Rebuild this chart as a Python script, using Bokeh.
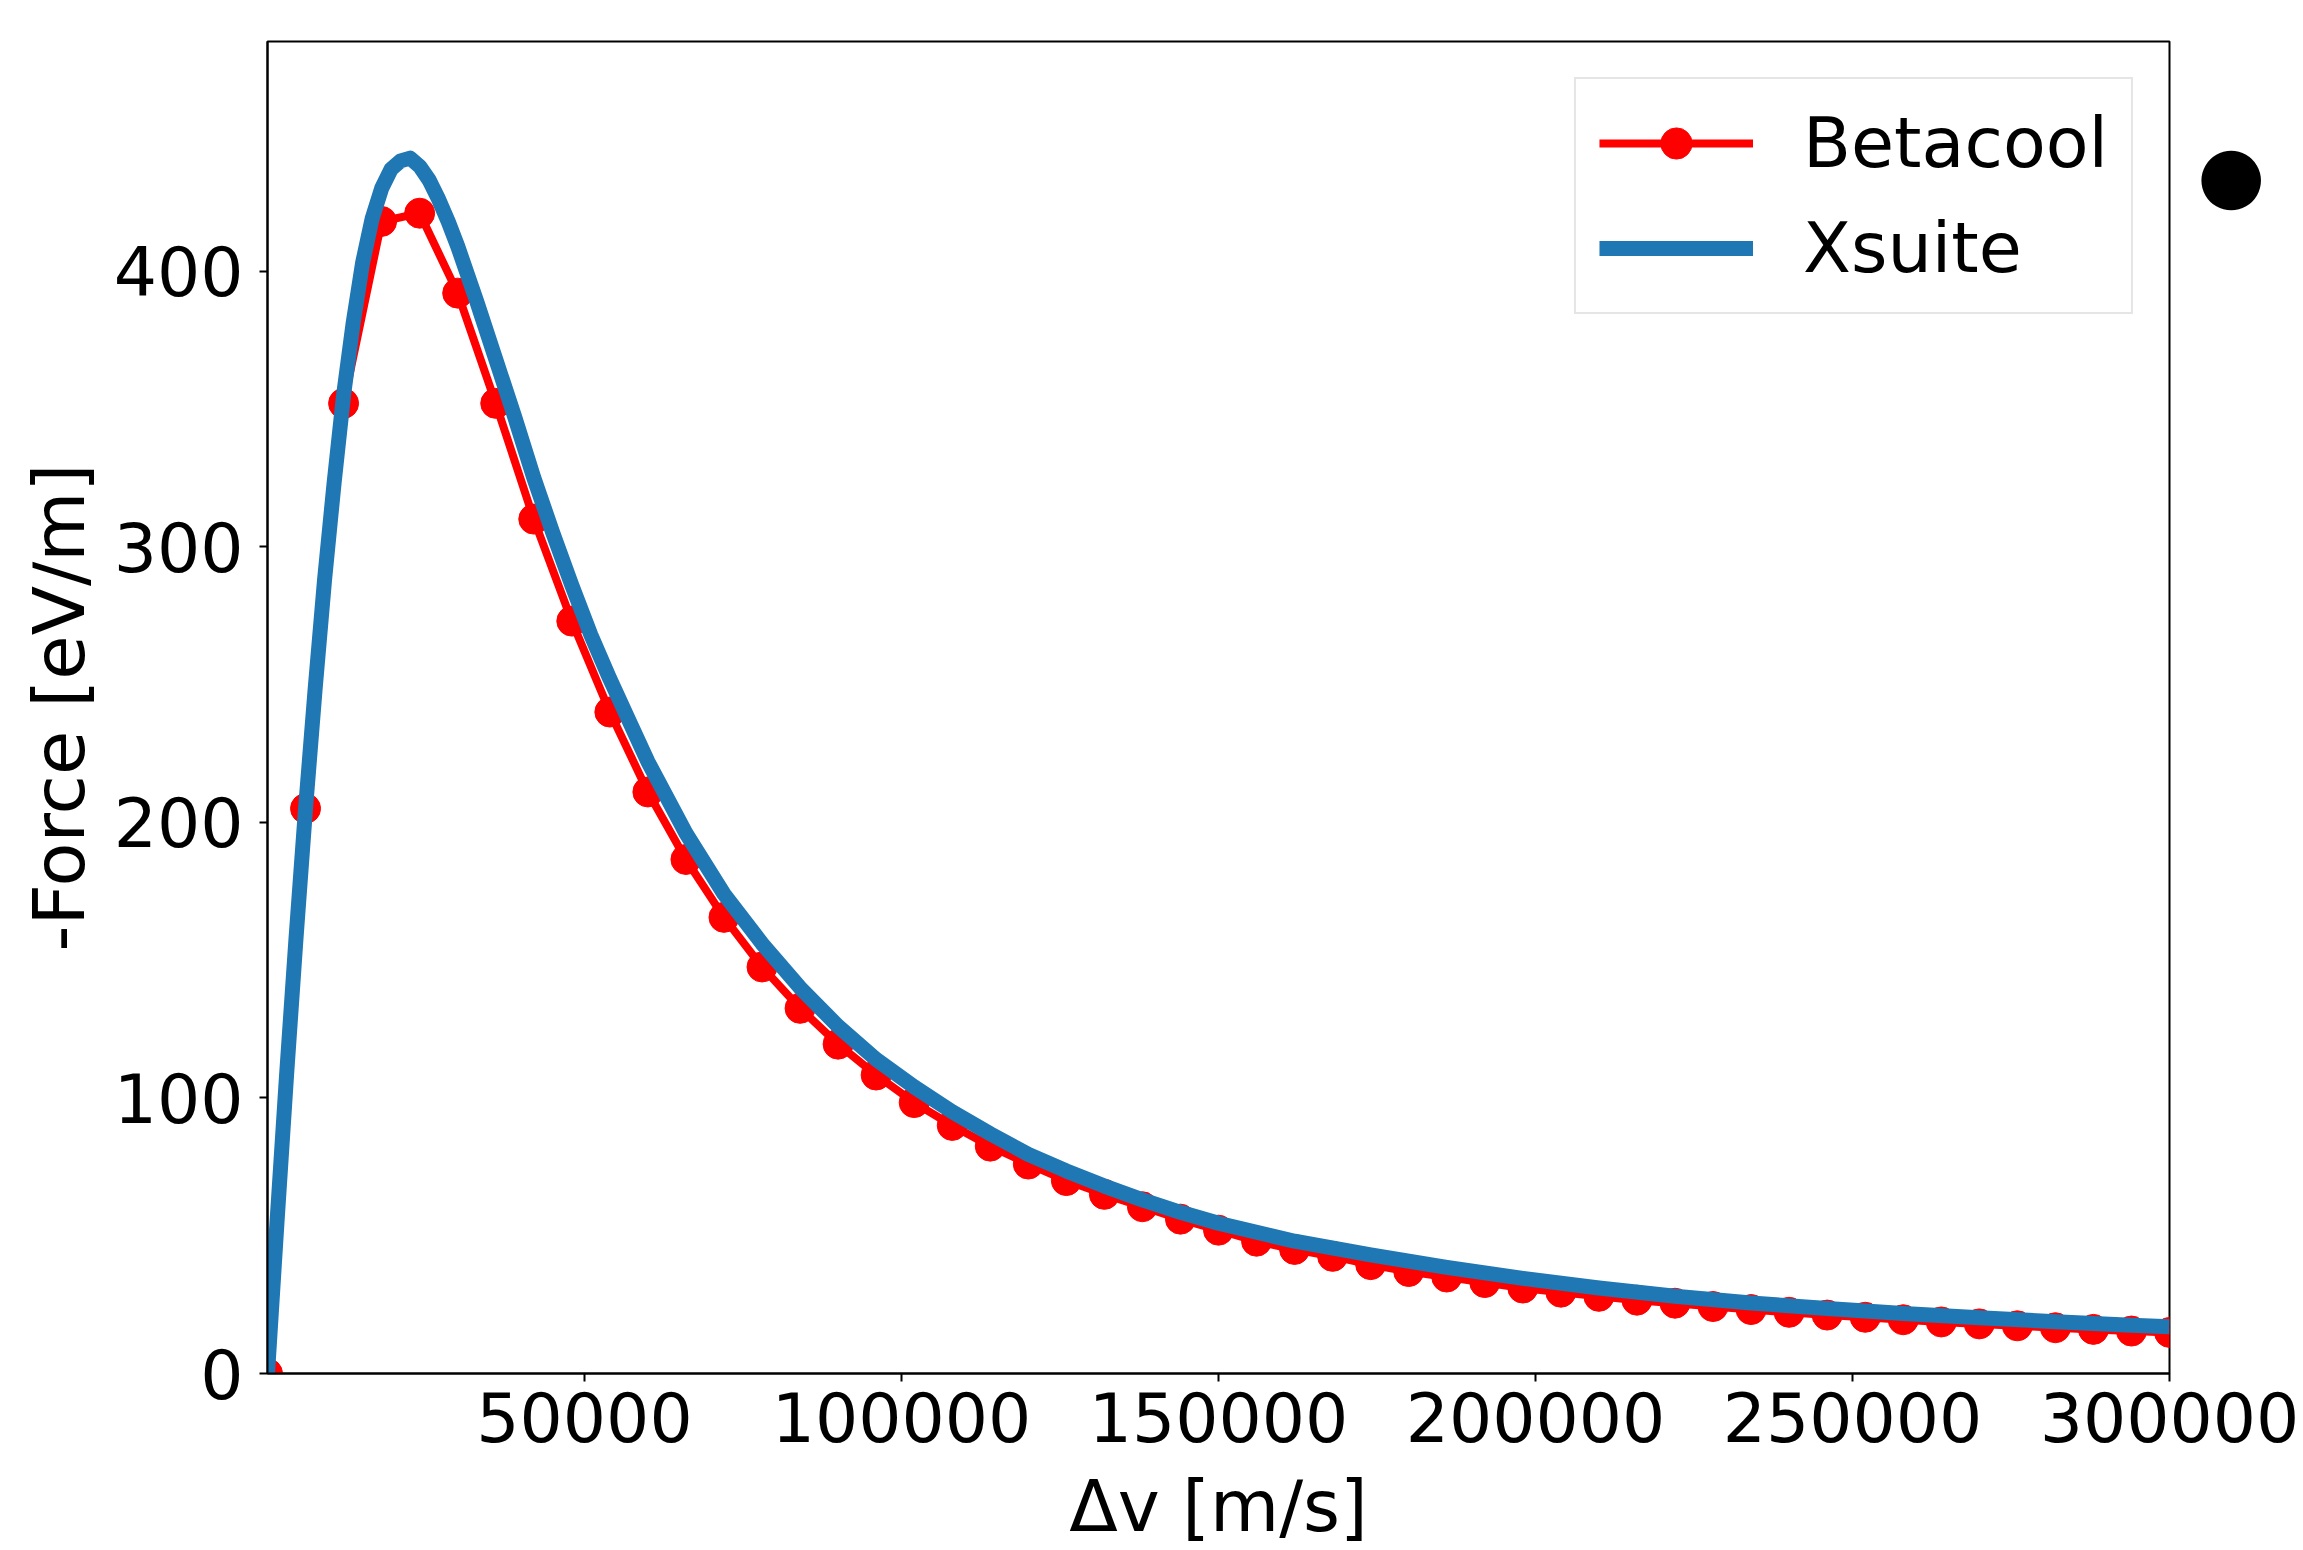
from bokeh.plotting import figure
from bokeh.models import (Range1d, FixedTicker, BasicTickFormatter, Legend,
                          LegendItem, Title)
from bokeh.embed import file_html
from bokeh.resources import INLINE

# ---------------- data ----------------
dv_betacool = [0, 6000, 12000, 18000, 24000, 30000, 36000, 42000, 48000, 54000,
               60000, 66000, 72000, 78000, 84000, 90000, 96000, 102000, 108000, 114000,
               120000, 126000, 132000, 138000, 144000, 150000, 156000, 162000, 168000, 174000,
               180000, 186000, 192000, 198000, 204000, 210000, 216000, 222000, 228000, 234000,
               240000, 246000, 252000, 258000, 264000, 270000, 276000, 282000, 288000, 294000,
               300000]
force_betacool = [0, 205, 352, 418, 421, 392, 352, 310, 273, 240,
                  211, 186.5, 165.5, 147.5, 132.5, 119.5, 108.3, 98.3, 90, 82.5,
                  76, 70, 65, 60.5, 56, 52, 48, 45, 42.5, 39.5,
                  37, 35, 33, 31, 29.5, 28, 26.6, 25.5, 24.3, 23.2,
                  22.2, 21.2, 20.4, 19.5, 18.7, 18, 17.3, 16.6, 16, 15.4,
                  14.9]

dv_xsuite = [0, 1500, 3000, 4500, 6000, 7500, 9000, 10500, 12000, 13500,
             15000, 16500, 18000, 19500, 21000, 22500, 24000, 25500, 27000, 28500,
             30000, 33000, 36000, 39000, 42000, 45000, 48000, 51000, 54000, 57000,
             60000, 66000, 72000, 78000, 84000, 90000, 96000, 102000, 108000, 114000,
             120000, 126000, 132000, 138000, 144000, 150000, 162000, 174000, 186000, 198000,
             210000, 222000, 234000, 246000, 258000, 270000, 282000, 294000, 300000]
force_xsuite = [0, 55, 108, 158, 205, 248, 288, 323, 355, 381,
                403, 419, 430, 437, 440, 441, 438, 433, 426, 418,
                409, 389, 368, 347, 325, 305, 286, 268, 252, 237,
                222, 196, 174, 156, 140, 126, 114, 104, 95, 87,
                79.5, 73.5, 68, 63, 58.5, 54.5, 48, 43, 38.5, 34.5,
                31, 28, 25.6, 23.6, 21.8, 20.2, 18.8, 17.5, 17]

x_ticks = [50000, 100000, 150000, 200000, 250000, 300000]
y_ticks = [0, 100, 200, 300, 400]
x_label = "Δv [m/s]"
y_label = "-Force [eV/m]"
series_names = ["Betacool", "Xsuite"]

# ---------------- figure ----------------
FONT = "DejaVu Sans"
W, H = 2303, 1550
FL, FR, FT, FB = 267, 2169, 41, 1376   # frame edges in page pixels

p = figure(width=W, height=H, output_backend="svg", toolbar_location=None,
           x_range=Range1d(0, 300000), y_range=Range1d(0, 483.3),
           min_border_left=FL, min_border_right=W - FR,
           min_border_top=FT, min_border_bottom=H - FB)
p.background_fill_color = "white"
p.border_fill_color = "white"
p.outline_line_color = "black"
p.outline_line_width = 2
p.xgrid.visible = False
p.ygrid.visible = False

r_line = p.line(dv_betacool, force_betacool, line_color="#ff0000", line_width=8,
                line_join="round")
r_pts = p.scatter(dv_betacool, force_betacool, marker="circle", size=30,
                  fill_color="#ff0000", line_color="#ff0000")
r_xs = p.line(dv_xsuite, force_xsuite, line_color="#1f77b4", line_width=15,
              line_join="round")

for ax in (p.xaxis[0], p.yaxis[0]):
    ax.major_label_text_font = FONT
    ax.major_label_text_font_size = "68px"
    ax.major_label_text_color = "black"
    ax.axis_label_text_font = FONT
    ax.axis_label_text_font_style = "normal"
    ax.axis_label_text_color = "black"
    ax.axis_line_color = "black"
    ax.axis_line_width = 2
    ax.major_tick_line_color = "black"
    ax.major_tick_line_width = 2
    ax.major_tick_out = 8
    ax.major_tick_in = 0
    ax.minor_tick_out = 0
    ax.minor_tick_in = 0

p.xaxis.ticker = FixedTicker(ticks=x_ticks)
p.xaxis.formatter = BasicTickFormatter(use_scientific=False)
p.xaxis.axis_label = x_label
p.xaxis.axis_label_text_font_size = "71px"
p.xaxis.major_label_standoff = 10
p.xaxis.axis_label_standoff = 20

p.yaxis.ticker = FixedTicker(ticks=y_ticks)
p.yaxis.formatter = BasicTickFormatter(use_scientific=False)
p.yaxis.axis_label = y_label
p.yaxis.axis_label_text_font_size = "72px"
p.yaxis.major_label_standoff = 16
p.yaxis.axis_label_standoff = 10

legend = Legend(items=[LegendItem(label=series_names[0], renderers=[r_line, r_pts]),
                       LegendItem(label=series_names[1], renderers=[r_xs])],
                location="top_right")
legend.margin = 36
legend.padding = 23
legend.spacing = 23
legend.glyph_width = 154
legend.glyph_height = 78
legend.label_standoff = 50
legend.label_text_font = FONT
legend.label_text_font_size = "70px"
legend.label_text_color = "black"
legend.border_line_color = "#cccccc"
legend.border_line_width = 2
legend.background_fill_color = "white"
legend.background_fill_alpha = 1.0
p.add_layout(legend)

# bullet dot to the right of the chart (slide decoration), in the right side panel
dot = Title(text="●", align="left", vertical_align="top", offset=105, standoff=42,
            text_font=FONT, text_font_size="78px", text_font_style="normal",
            text_color="black")
p.add_layout(dot, "right")

open("out.html", "w").write(file_html(p, INLINE))
